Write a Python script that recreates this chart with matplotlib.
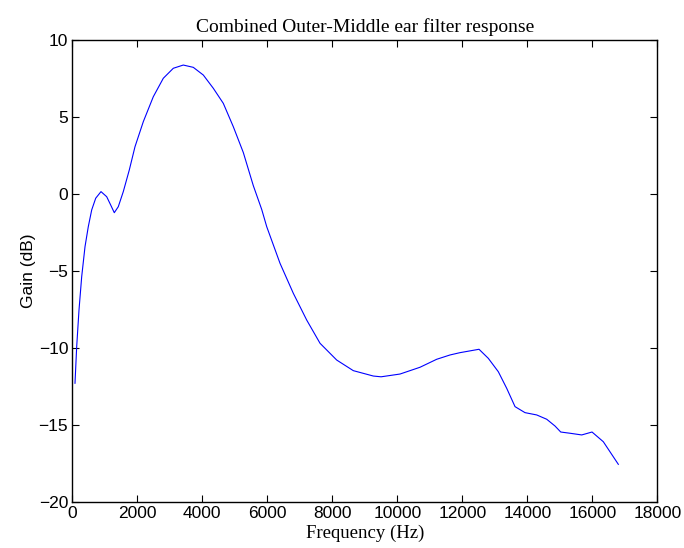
import matplotlib
matplotlib.use("Agg")
import matplotlib.pyplot as plt

# combined outer + middle ear response
freq_hz = [83, 135, 206, 289, 391, 492, 597, 720, 883, 1058, 1181, 1292,
           1415, 1569, 1754, 1929, 2185, 2492, 2800, 3108, 3415, 3723,
           4031, 4338, 4646, 4954, 5262, 5569, 5828, 5982, 6391, 6800,
           7212, 7622, 8135, 8646, 9262, 9500, 10083, 10698, 11212, 11622,
           11929, 12514, 12800, 13108, 13366, 13622, 13929, 14289, 14597,
           14852, 15028, 15314, 15674, 15991, 16338, 16800]
gain_db = [-12.3, -9.92, -7.54, -5.37, -3.42, -2.12, -1.03, -0.27, 0.16,
           -0.17, -0.71, -1.21, -0.82, 0.16, 1.57, 3.08, 4.71, 6.33, 7.53,
           8.18, 8.39, 8.24, 7.74, 6.88, 5.9, 4.38, 2.7, 0.55, -1.0, -2.12,
           -4.5, -6.45, -8.19, -9.7, -10.79, -11.48, -11.83, -11.88, -11.7,
           -11.26, -10.74, -10.46, -10.31, -10.09, -10.68, -11.55, -12.63,
           -13.82, -14.21, -14.36, -14.64, -15.08, -15.47, -15.55, -15.66,
           -15.47, -16.1, -17.57]

x_ticks = list(range(0, 18001, 2000))
y_ticks = [-20, -15, -10, -5, 0, 5, 10]

sans = "Liberation Sans"
serif = "Liberation Serif"

fig = plt.figure(figsize=(6.84, 5.48), dpi=100)
ax = fig.add_axes([0.1057, 0.0845, 0.8553, 0.842])

ax.plot(freq_hz, gain_db, color=(0, 0, 1), linewidth=0.8)

ax.set_xlim(0, 18000)
ax.set_ylim(-20, 10)
ax.set_xticks(x_ticks)
ax.set_yticks(y_ticks)
ax.set_xticklabels([str(t) for t in x_ticks], fontfamily=sans, fontsize=12.5)
ax.set_yticklabels([str(t).replace("-", "\u2212") for t in y_ticks],
                   fontfamily=sans, fontsize=12.5)
ax.tick_params(direction="in", length=5, width=0.8, top=True, right=True,
               pad=3)
for s in ax.spines.values():
    s.set_linewidth(1.0)

ax.set_title("Combined Outer-Middle ear filter response", fontfamily=serif,
             fontsize=14, pad=6)
ax.set_xlabel("Frequency (Hz)", fontfamily=serif, fontsize=13.5, labelpad=3)
ax.set_ylabel("Gain (dB)", fontfamily=sans, fontsize=12.5, labelpad=2)

fig.savefig("out.png", dpi=100)
